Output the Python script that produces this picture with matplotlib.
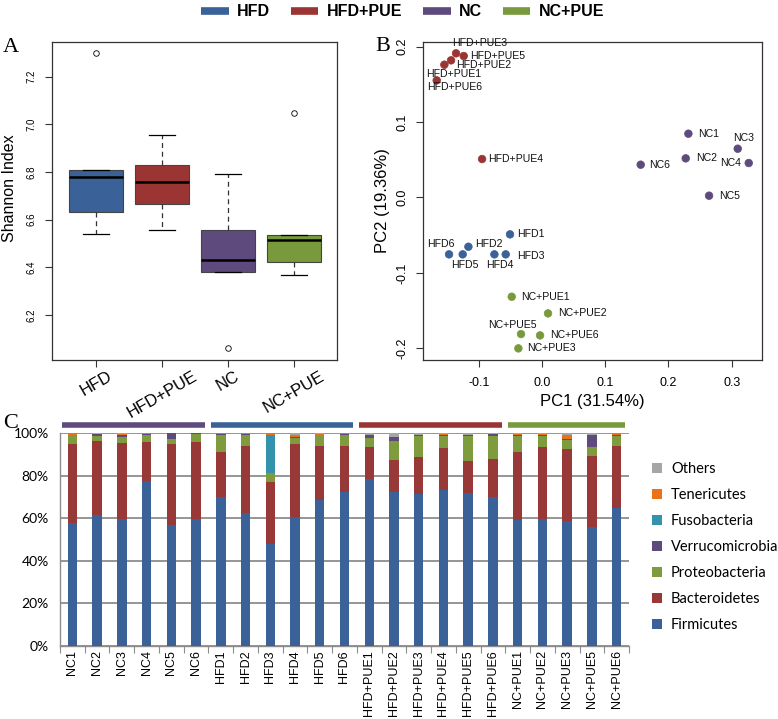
import matplotlib
matplotlib.use("Agg")
import matplotlib.pyplot as plt
import matplotlib.transforms as mtransforms
from matplotlib.lines import Line2D
from matplotlib.patches import Patch
import numpy as np

# ---------------- data ----------------
groups = ["HFD", "HFD+PUE", "NC", "NC+PUE"]
group_colors = ["#3A6298", "#9B3533", "#5E4A7D", "#789A3C"]

# Panel A: Shannon index box statistics
shannon_med = [6.779, 6.757, 6.429, 6.515]
shannon_q1 = [6.633, 6.666, 6.379, 6.422]
shannon_q3 = [6.807, 6.829, 6.555, 6.537]
shannon_wlo = [6.540, 6.557, 6.379, 6.367]
shannon_whi = [6.807, 6.954, 6.790, 6.537]
shannon_fliers = [[7.298], [], [6.060], [7.048]]

# Panel B: PCoA
pc_labels = ["HFD+PUE3", "HFD+PUE5", "HFD+PUE2", "HFD+PUE1", "HFD+PUE6", "HFD+PUE4",
             "NC1", "NC3", "NC2", "NC6", "NC4", "NC5",
             "HFD1", "HFD2", "HFD6", "HFD5", "HFD4", "HFD3",
             "NC+PUE1", "NC+PUE2", "NC+PUE5", "NC+PUE6", "NC+PUE3"]
pc_group = [1, 1, 1, 1, 1, 1, 2, 2, 2, 2, 2, 2, 0, 0, 0, 0, 0, 0, 3, 3, 3, 3, 3]
pc1 = [-0.1358, -0.1237, -0.1437, -0.1543, -0.1664, -0.0947,
       0.2315, 0.3095, 0.2273, 0.1561, 0.3269, 0.2642,
       -0.0505, -0.1163, -0.1469, -0.1253, -0.0752, -0.0573,
       -0.0478, 0.0096, -0.0331, -0.0030, -0.0373]
pc2 = [0.1912, 0.1876, 0.1819, 0.1761, 0.1553, 0.0510,
       0.0846, 0.0647, 0.0519, 0.0435, 0.0457, 0.0024,
       -0.0489, -0.0653, -0.0754, -0.0754, -0.0754, -0.0754,
       -0.1316, -0.1537, -0.1811, -0.1829, -0.2001]

# Panel C: phylum relative abundance (%)
samples = ["NC1", "NC2", "NC3", "NC4", "NC5", "NC6",
           "HFD1", "HFD2", "HFD3", "HFD4", "HFD5", "HFD6",
           "HFD+PUE1", "HFD+PUE2", "HFD+PUE3", "HFD+PUE4", "HFD+PUE5", "HFD+PUE6",
           "NC+PUE1", "NC+PUE2", "NC+PUE3", "NC+PUE5", "NC+PUE6"]
firmicutes = [57.6, 61.7, 59.8, 77.3, 56.7, 59.8, 70.1, 62.3, 47.7, 60.7, 68.7, 72.4,
              78.2, 72.2, 71.2, 73.1, 71.7, 69.8, 59.0, 59.5, 58.5, 56.0, 64.9]
bacteroidetes = [37.2, 34.5, 35.5, 18.3, 38.1, 36.1, 21.1, 31.7, 29.4, 34.1, 25.3, 21.6,
                 15.4, 15.3, 17.7, 20.0, 15.3, 17.8, 32.2, 33.8, 34.1, 33.3, 29.1]
proteobacteria = [4.2, 2.5, 2.7, 3.6, 2.5, 3.8, 8.0, 5.2, 4.2, 3.0, 5.0, 5.2,
                  4.0, 8.8, 9.6, 5.3, 11.6, 11.2, 7.2, 5.4, 4.3, 4.0, 4.6]
verrucomicrobia = [0.0, 0.7, 1.2, 0.2, 2.5, 0.1, 0.1, 0.1, 0.1, 0.1, 0.1, 0.1,
                   1.4, 1.8, 0.6, 0.8, 0.3, 0.5, 0.6, 0.5, 0.3, 5.6, 0.3]
fusobacteria = [0, 0, 0, 0, 0, 0, 0, 0, 17.6, 0, 0, 0,
                0, 0, 0, 0, 0, 0, 0, 0, 0, 0, 0]
tenericutes = [0.8, 0.2, 0.5, 0.5, 0.2, 0.1, 0.6, 0.6, 1.0, 1.3, 0.6, 0.6,
               0.2, 0.1, 0.1, 0.1, 0.1, 0.3, 0.5, 0.2, 2.0, 0.2, 1.1]
others = [0.2, 0.4, 0.3, 0.1, 0.0, 0.1, 0.1, 0.1, 0.0, 0.8, 0.3, 0.1,
          0.8, 1.8, 0.8, 0.7, 1.0, 0.4, 0.5, 0.6, 0.8, 0.9, 0.0]
phyla = ["Firmicutes", "Bacteroidetes", "Proteobacteria", "Verrucomicrobia",
         "Fusobacteria", "Tenericutes", "Others"]
phyla_values = [firmicutes, bacteroidetes, proteobacteria, verrucomicrobia,
                fusobacteria, tenericutes, others]
phyla_colors = ["#3A6298", "#983937", "#7E9C3E", "#5F4A7C", "#3392AC", "#E8731A", "#A6A6A6"]
# sample groups along panel C: (group index, first sample, last sample)
c_groups = [(2, 0, 5), (0, 6, 11), (1, 12, 17), (3, 18, 22)]

# ---------------- figure ----------------
W, H = 778, 719
fig = plt.figure(figsize=(W / 100, H / 100), dpi=100)
SANS = ["Liberation Sans", "DejaVu Sans"]
plt.rcParams["font.family"] = SANS


def ax_rect(x0, y0, x1, y1):
    return [x0 / W, 1 - y1 / H, (x1 - x0) / W, (y1 - y0) / H]


# ---- top legend ----
leg_handles = [Line2D([0], [0], color=c, lw=5.5, solid_capstyle="butt") for c in group_colors]
fig.legend(leg_handles, groups, loc="center", bbox_to_anchor=(0.518, 1 - 12 / H), ncol=4,
           frameon=False, handlelength=1.7, handletextpad=0.55, columnspacing=1.3,
           prop=dict(family=["Liberation Sans", "DejaVu Sans"], weight="bold", size=11.5))

# ---- Panel A ----
axA = fig.add_axes(ax_rect(51.7, 41.7, 337.3, 360))
stats = []
for i in range(4):
    stats.append(dict(med=shannon_med[i], q1=shannon_q1[i], q3=shannon_q3[i],
                      whislo=shannon_wlo[i], whishi=shannon_whi[i], fliers=shannon_fliers[i]))
bp = axA.bxp(stats, positions=[1, 2, 3, 4], widths=0.82, patch_artist=True, capwidths=0.4,
             boxprops=dict(edgecolor="#444444", linewidth=0.8),
             medianprops=dict(color="black", linewidth=1.8),
             whiskerprops=dict(color="#333333", linewidth=0.9, linestyle=(0, (4, 3))),
             capprops=dict(color="black", linewidth=0.9),
             flierprops=dict(marker="o", markersize=4, markerfacecolor="none",
                             markeredgecolor="black", markeredgewidth=0.6))
for patch, c in zip(bp["boxes"], group_colors):
    patch.set_facecolor(c)
axA.set_xlim(0.33, 4.66)
axA.set_ylim(6.011, 7.347)
axA.set_yticks([6.2, 6.4, 6.6, 6.8, 7.0, 7.2])
axA.set_yticklabels(["6.2", "6.4", "6.6", "6.8", "7.0", "7.2"], rotation=90, va="center", fontsize=7)
axA.set_xticks([1, 2, 3, 4])
axA.set_xticklabels(groups, rotation=30, ha="center", va="top", fontsize=12)
axA.tick_params(axis="both", direction="out", length=5, width=0.8, color="#333333")
axA.tick_params(axis="y", pad=6)
axA.tick_params(axis="x", pad=1)
for s in axA.spines.values():
    s.set_linewidth(0.9)
    s.set_color("#333333")
axA.set_ylabel("Shannon Index", fontsize=11.5)
axA.yaxis.set_label_coords(-0.122, 0.54)

# ---- Panel B ----
axB = fig.add_axes(ax_rect(423.3, 41.7, 761.7, 360))
pt_colors = [group_colors[g] for g in pc_group]
axB.scatter(pc1, pc2, s=30, c=pt_colors, edgecolors=pt_colors, linewidths=0.5, zorder=3)
# label offsets (pixels) and alignment -- styling only
lab_style = {
    "HFD+PUE3": (24, 10, "center"), "HFD+PUE5": (6.3, 0.5, "left"),
    "HFD+PUE2": (5, -4.5, "left"), "HFD+PUE1": (9.3, -9.3, "center"),
    "HFD+PUE6": (17.7, -7, "center"), "HFD+PUE4": (6.3, 0, "left"),
    "NC1": (10, 0, "left"), "NC3": (6, 10.3, "center"), "NC2": (10, 0, "left"),
    "NC6": (8.7, 0, "left"), "NC4": (-8, 0, "right"), "NC5": (9.7, 0, "left"),
    "HFD1": (6.7, 0, "left"), "HFD2": (6.7, 2.3, "left"), "HFD6": (-8, 10, "center"),
    "HFD5": (2.3, -10.7, "center"), "HFD4": (5, -10.7, "center"), "HFD3": (11.7, -1.7, "left"),
    "NC+PUE1": (9.3, 0, "left"), "NC+PUE2": (10, 0, "left"), "NC+PUE5": (-8.3, 9.3, "center"),
    "NC+PUE6": (10, 0, "left"), "NC+PUE3": (8.3, 0, "left"),
}
for lab, x, y in zip(pc_labels, pc1, pc2):
    dx, dy, ha = lab_style[lab]
    axB.annotate(lab, (x, y), xytext=(dx * 0.72, dy * 0.72), textcoords="offset points",
                 ha=ha, va="center", fontsize=7.6, color="#111111")
axB.set_xlim(-0.1876, 0.3474)
axB.set_ylim(-0.2155, 0.2066)
axB.set_xticks([-0.1, 0.0, 0.1, 0.2, 0.3])
axB.set_xticklabels(["-0.1", "0.0", "0.1", "0.2", "0.3"], fontsize=9)
axB.set_yticks([-0.2, -0.1, 0.0, 0.1, 0.2])
axB.set_yticklabels(["-0.2", "-0.1", "0.0", "0.1", "0.2"], rotation=90, va="center", fontsize=9)
axB.tick_params(axis="both", direction="out", length=5, width=0.8, color="#333333")
axB.tick_params(axis="x", pad=7)
axB.tick_params(axis="y", pad=6)
for s in axB.spines.values():
    s.set_linewidth(0.9)
    s.set_color("#333333")
axB.set_xlabel("PC1 (31.54%)", fontsize=12, labelpad=4)
axB.set_ylabel("PC2 (19.36%)", fontsize=12, labelpad=4)

# ---- Panel C ----
axC = fig.add_axes(ax_rect(60, 433, 629, 646))
xs = np.arange(len(samples))
bottom = np.zeros(len(samples))
for name, vals, col in zip(phyla, phyla_values, phyla_colors):
    v = np.array(vals, dtype=float)
    axC.bar(xs, v, bottom=bottom, width=0.38, color=col, edgecolor="none", zorder=3, label=name)
    bottom += v
axC.set_xlim(-0.5, len(samples) - 0.5)
axC.set_ylim(0, 100)
axC.set_yticks([0, 20, 40, 60, 80, 100])
axC.set_yticklabels(["0%", "20%", "40%", "60%", "80%", "100%"],
                    fontsize=10, family=["Lato", "DejaVu Sans"])
axC.yaxis.grid(True, color="#8C8C8C", linewidth=1.3, zorder=0)
axC.set_axisbelow(True)
axC.tick_params(axis="y", length=0, pad=8)
axC.set_xticks(xs)
axC.set_xticklabels(samples, rotation=90, fontsize=9)
axC.tick_params(axis="x", length=0, pad=3)
axC.set_xticks(np.arange(-0.5, len(samples) + 0.5, 1), minor=True)
axC.tick_params(axis="x", which="minor", length=5, width=0.8, color="#8C8C8C", direction="out")
for k in ["top", "right"]:
    axC.spines[k].set_visible(False)
axC.spines["left"].set_color("#8C8C8C")
axC.spines["bottom"].set_color("#8C8C8C")
axC.spines["left"].set_linewidth(1.0)
axC.spines["bottom"].set_linewidth(1.0)

trans = mtransforms.blended_transform_factory(axC.transData, axC.transAxes)
for g, a, b in c_groups:
    axC.plot([a - 0.4, b + 0.35], [1.038, 1.038], color=group_colors[g], lw=4,
             solid_capstyle="butt", transform=trans, clip_on=False)

handles = [Patch(facecolor=c, edgecolor="none") for c in phyla_colors][::-1]
fig.legend(handles, phyla[::-1], loc="upper left", bbox_to_anchor=(652 / W, 1 - 462 / H),
           frameon=False, handlelength=0.7, handleheight=0.7, handletextpad=0.6,
           labelspacing=0.82, borderpad=0, borderaxespad=0,
           prop=dict(family=["Lato", "DejaVu Sans"], size=10.5))

# ---- panel letters ----
for lab, x, y in [("A", 3, 52), ("B", 375, 51), ("C", 3, 428)]:
    fig.text(x / W, 1 - y / H, lab, fontsize=16,
             family=["Liberation Serif", "DejaVu Serif"], ha="left", va="baseline")

fig.savefig("out.png", dpi=100)
